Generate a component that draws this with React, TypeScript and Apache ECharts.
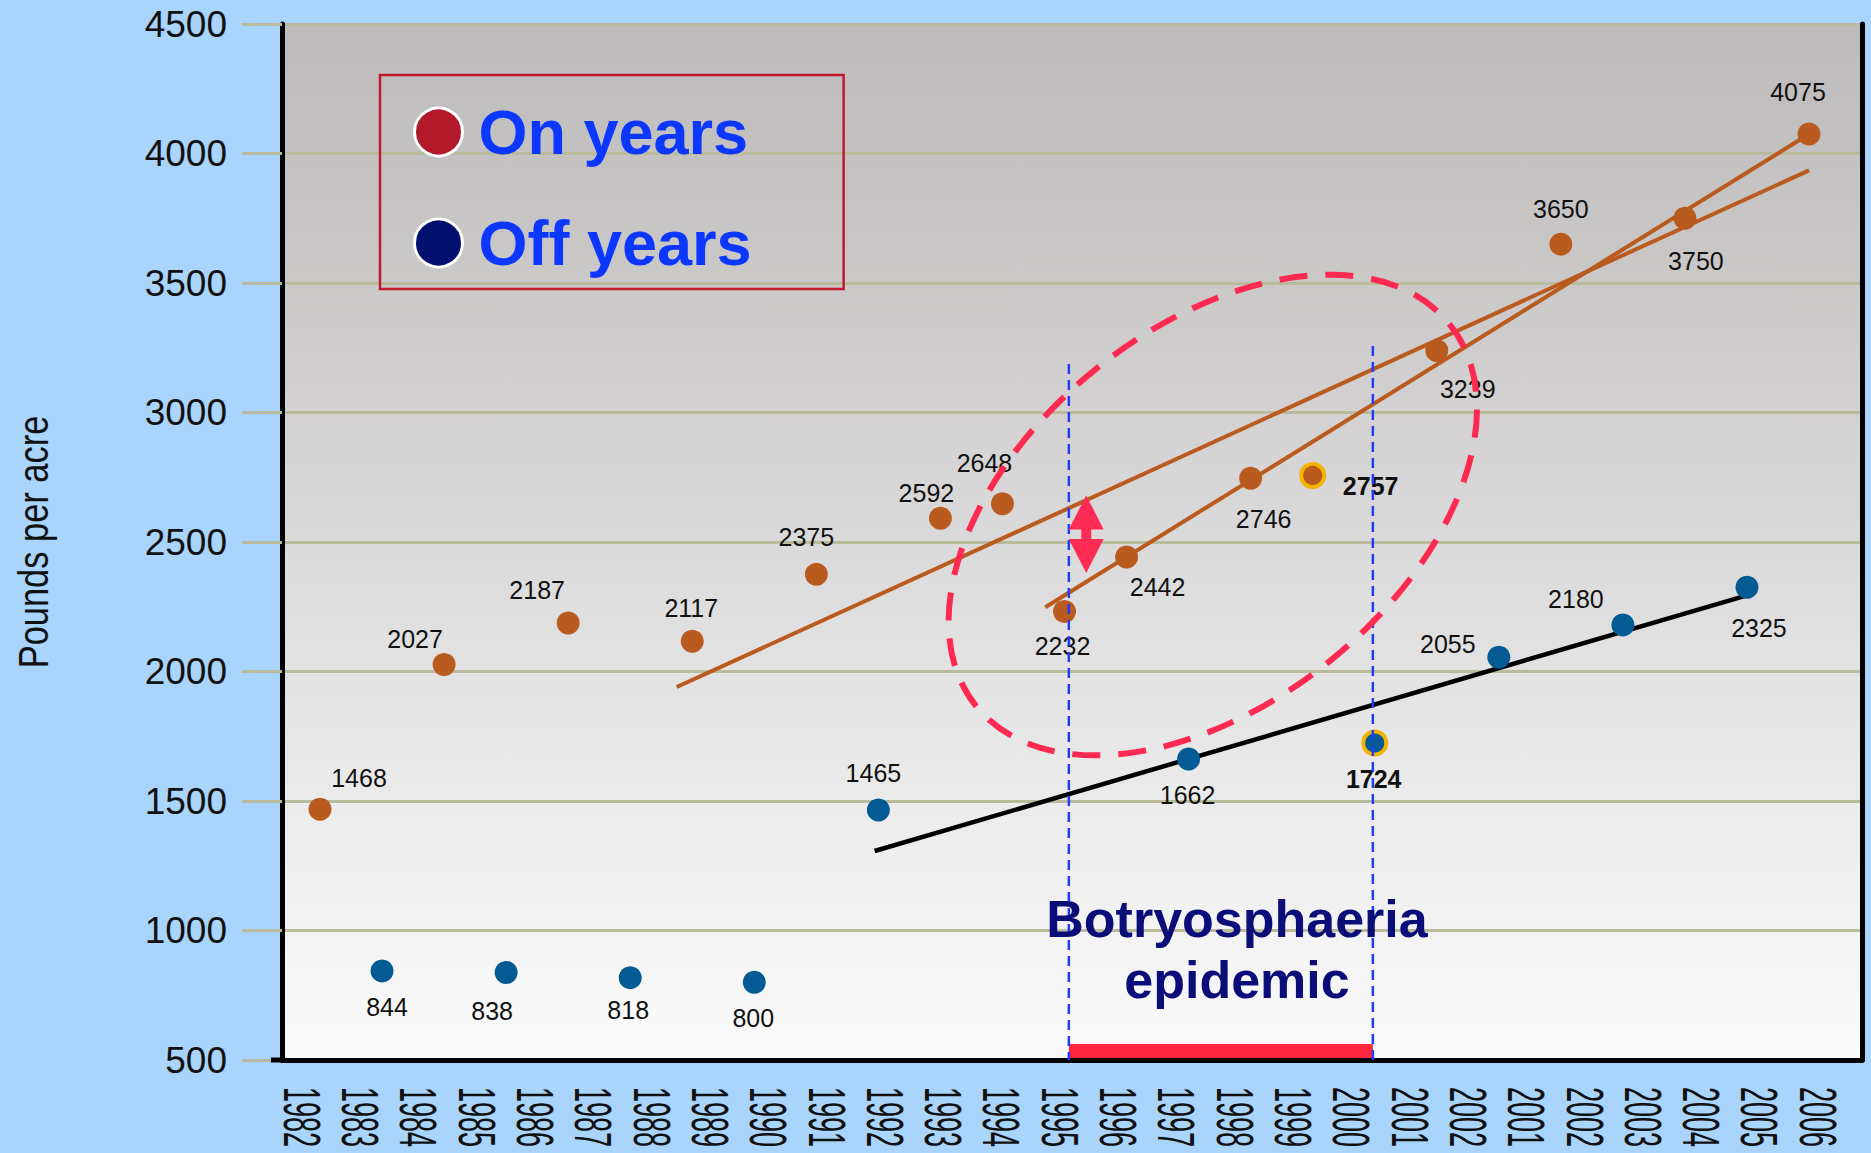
import React, { useEffect, useRef } from "react";
import * as echarts from "echarts";

// ---------- data ----------
const xLabels = [
  "1982", "1983", "1984", "1985", "1986", "1987", "1988", "1989", "1990",
  "1991", "1992", "1993", "1994", "1995", "1996", "1997", "1998", "1999",
  "2000", "2001", "2002", "2001", "2002", "2003", "2004", "2005", "2006",
];

// yields in the order the points appear from left to right
const yields = [
  1468, 844, 2027, 838, 2187, 818, 2117, 800, 2375, 1465, 2592, 2648, 2232,
  2442, 1662, 2746, 2757, 1724, 3239, 2055, 3650, 2180, 3750, 2325, 4075,
];
// 1 = on year, 0 = off year
const onYear = [1, 0, 1, 0, 1, 0, 1, 0, 1, 0, 1, 1, 1, 1, 0, 1, 1, 0, 1, 0, 1, 0, 1, 0, 1];
const highlighted = [16, 17];

// trend lines [pointIndex, pounds]
const trendOnAll = [[5.75, 1940], [24, 3935]];
const trendOnRecent = [[11.69, 2248], [24, 4075]];
const trendOff = [[8.94, 1307], [23, 2294]];

// epidemic period (point index) and tops of the marker lines (pounds)
const epidemicRange = [12.07, 16.97];
const epidemicTops = [3187, 3257];
const arrowSpan = [12.35, 2680, 2380];
const circleCenter = [14.39, 2604];
const epidemicTextAt = [14.78, 927];

const yMin = 500;
const yMax = 4500;
const yStep = 500;

// ---------- styles ----------
const FONT = "'Liberation Sans', Arial, Helvetica, sans-serif";
const ORANGE = "#b95a1e";
const BLUE = "#045a93";
const GRIDLINE = "#b9bb9c";

const labelOffsets = [
  [39, -31], [5, 36], [-29, -26], [-14, 39], [-31, -33], [-2, 32], [-1, -33],
  [-1, 36], [-10, -37], [-5, -37], [-14, -25], [-18, -41], [-2, 35], [31, 30],
  [-1, 36], [13, 41], [58, 11], [-1, 36], [31, 38], [-51, -13], [0, -35],
  [-47, -26], [11, 43], [12, 41], [-11, -42],
];

function pointsFor(flag: number) {
  const out: any[] = [];
  yields.forEach((v, i) => {
    if (onYear[i] !== flag) return;
    const hl = highlighted.includes(i);
    out.push({
      value: [i, v],
      label: { offset: labelOffsets[i], fontWeight: hl ? "bold" : "normal" },
      itemStyle: hl ? { borderColor: "#f5b301", borderWidth: 4 } : undefined,
    });
  });
  return out;
}

function buildOption(): any {
  const pointLabel = {
    show: true,
    position: "inside",
    formatter: (p: any) => String(p.value[1]),
    fontSize: 25,
    color: "#111",
    fontFamily: FONT,
  };
  return {
    animation: false,
    backgroundColor: "#a9d4fb",
    grid: [
      {
        left: 282, right: 9, top: 24, bottom: 93, show: true, borderWidth: 0,
        backgroundColor: {
          type: "linear", x: 0, y: 0, x2: 0, y2: 1,
          colorStops: [
            { offset: 0, color: "#bcbaba" },
            { offset: 0.25, color: "#cbc8c8" },
            { offset: 0.5, color: "#dbdada" },
            { offset: 0.75, color: "#ebebeb" },
            { offset: 1, color: "#fbfbfb" },
          ],
        },
      },
      { left: 302, right: 53, top: 24, bottom: 93, show: false },
    ],
    xAxis: [
      {
        type: "value", gridIndex: 0, min: -0.6125, max: 24.854,
        axisLine: { show: true, onZero: false, lineStyle: { color: "#000", width: 5 } },
        axisTick: { show: false }, axisLabel: { show: false }, splitLine: { show: false },
      },
      { type: "category", gridIndex: 1, data: xLabels, boundaryGap: false, show: false },
    ],
    yAxis: [
      {
        type: "value", gridIndex: 0, min: yMin, max: yMax, interval: yStep,
        axisLine: { show: true, onZero: false, lineStyle: { color: "#000", width: 5 } },
        axisTick: { show: true, length: 40, lineStyle: { color: GRIDLINE, width: 3 } },
        axisLabel: {
          fontSize: 37, color: "#111", margin: 55, fontFamily: FONT,
          formatter: (v: number) => String(v),
        },
        splitLine: { show: true, lineStyle: { color: GRIDLINE, width: 3 } },
      },
      {
        type: "value", gridIndex: 0, position: "right", min: yMin, max: yMax, interval: yStep,
        axisLine: { show: true, onZero: false, lineStyle: { color: "#000", width: 5 } },
        axisTick: { show: false }, axisLabel: { show: false }, splitLine: { show: false },
      },
      { type: "value", gridIndex: 1, show: false },
    ],
    legend: {
      orient: "vertical",
      left: 380,
      top: 75,
      data: [
        { name: "On years", icon: "circle", itemStyle: { color: "#b21a2b", borderColor: "#fff", borderWidth: 3, opacity: 1 } },
        { name: "Off years", icon: "circle", itemStyle: { color: "#03106f", borderColor: "#fff", borderWidth: 3, opacity: 1 } },
      ],
      itemWidth: 70,
      itemHeight: 48,
      itemGap: 29,
      padding: [16, 92, 5, 33],
      borderColor: "#c0182f",
      borderWidth: 2.5,
      selectedMode: false,
      textStyle: {
        fontSize: 63, fontWeight: "bold", color: "#0c37ff", fontFamily: FONT,
        lineHeight: 70, padding: [0, 0, 12, 0],
      },
    },
    series: [
      {
        name: "On-year trend (all years)", type: "line", xAxisIndex: 0, yAxisIndex: 0,
        data: trendOnAll, symbol: "none", silent: true, z: 3,
        lineStyle: { color: ORANGE, width: 4 },
      },
      {
        name: "On-year trend (recent)", type: "line", xAxisIndex: 0, yAxisIndex: 0,
        data: trendOnRecent, symbol: "none", silent: true, z: 3,
        lineStyle: { color: ORANGE, width: 4 },
      },
      {
        name: "Off-year trend", type: "line", xAxisIndex: 0, yAxisIndex: 0,
        data: trendOff, symbol: "none", silent: true, z: 3,
        lineStyle: { color: "#000", width: 4.5 },
      },
      {
        name: "On years", type: "scatter", xAxisIndex: 0, yAxisIndex: 0,
        symbol: "circle", symbolSize: 23, z: 5,
        itemStyle: { color: ORANGE, opacity: 1 }, label: pointLabel, data: pointsFor(1),
      },
      {
        name: "Off years", type: "scatter", xAxisIndex: 0, yAxisIndex: 0,
        symbol: "circle", symbolSize: 23, z: 5,
        itemStyle: { color: BLUE, opacity: 1 }, label: pointLabel, data: pointsFor(0),
      },
    ],
  };
}

function buildGraphics(chart: any) {
  const px = (x: number, y: number) =>
    chart.convertToPixel({ xAxisIndex: 0, yAxisIndex: 0 }, [x, y]) as number[];
  const axisY = px(0, yMin)[1];
  const axisX = px(-0.6125, yMin)[0];
  const els: any[] = [];

  // y axis title (condensed)
  els.push({
    type: "text", x: 33, y: px(0, 2500)[1], rotation: Math.PI / 2, scaleX: 0.82, silent: true,
    style: { text: "Pounds per acre", fontSize: 42, fontFamily: FONT, fill: "#111", align: "center", verticalAlign: "middle" },
  });

  // x axis labels (condensed, rotated)
  xLabels.forEach((lab, i) => {
    const x = chart.convertToPixel({ xAxisIndex: 1 }, i) as number;
    els.push({
      type: "text", x, y: axisY + 27, rotation: -Math.PI / 2, scaleX: 0.52, silent: true,
      style: { text: lab, fontSize: 52, fontFamily: FONT, fill: "#111", align: "left", verticalAlign: "middle" },
    });
  });

  // little stub of the x axis left of the y axis
  els.push({
    type: "line", silent: true, z: 20,
    shape: { x1: axisX - 11, y1: axisY, x2: axisX, y2: axisY },
    style: { stroke: "#000", lineWidth: 5 },
  });

  // red bar marking the epidemic years
  const xa = px(epidemicRange[0], yMin)[0];
  const xb = px(epidemicRange[1], yMin)[0];
  els.push({
    type: "rect", silent: true, z: 8,
    shape: { x: xa, y: axisY - 16, width: xb - xa, height: 14 },
    style: { fill: "#ff2640" },
  });

  // blue dashed verticals
  epidemicRange.forEach((xv, k) => {
    const top = px(xv, epidemicTops[k]);
    els.push({
      type: "line", silent: true, z: 12,
      shape: { x1: top[0], y1: top[1], x2: top[0], y2: axisY },
      style: { stroke: "#1f3dff", lineWidth: 2.5, lineDash: [10, 6] },
    });
  });

  // dashed red ellipse
  const c = px(circleCenter[0], circleCenter[1]);
  els.push({
    type: "ellipse", silent: true, z: 14, x: c[0], y: c[1], rotation: 0.68,
    shape: { cx: 0, cy: 0, rx: 304, ry: 187 },
    style: { fill: "none", stroke: "#ff2a52", lineWidth: 6, lineDash: [28, 18] },
  });

  // double-headed arrow
  const at = px(arrowSpan[0], arrowSpan[1]);
  const ab = px(arrowSpan[0], arrowSpan[2]);
  const ax = at[0];
  const hw = 17.5;
  const hh = 34;
  els.push({
    type: "polygon", silent: true, z: 15,
    shape: { points: [[ax, at[1]], [ax + hw, at[1] + hh], [ax - hw, at[1] + hh]] },
    style: { fill: "#ff2d55" },
  });
  els.push({
    type: "polygon", silent: true, z: 15,
    shape: { points: [[ax, ab[1]], [ax + hw, ab[1] - hh], [ax - hw, ab[1] - hh]] },
    style: { fill: "#ff2d55" },
  });
  els.push({
    type: "rect", silent: true, z: 15,
    shape: { x: ax - 5, y: at[1] + hh - 1, width: 10, height: Math.max(0, ab[1] - at[1] - 2 * hh + 2) },
    style: { fill: "#ff2d55" },
  });

  // epidemic caption
  const t = px(epidemicTextAt[0], epidemicTextAt[1]);
  els.push({
    type: "text", silent: true, z: 16, x: t[0], y: t[1],
    style: {
      text: "Botryosphaeria\nepidemic", fontSize: 52, fontWeight: "bold", fontFamily: FONT,
      fill: "#0b0d78", align: "center", verticalAlign: "middle", lineHeight: 61,
    },
  });

  return els;
}

export default function App() {
  const ref = useRef<HTMLDivElement>(null);
  useEffect(() => {
    const el = ref.current;
    if (!el) return;
    const chart = echarts.init(el, undefined, { renderer: "svg" });
    chart.setOption(buildOption());
    chart.setOption({ graphic: buildGraphics(chart) });
    return () => chart.dispose();
  }, []);
  return (
    <div
      ref={ref}
      style={{ position: "fixed", left: 0, top: 0, width: 1871, height: 1153 }}
    />
  );
}
